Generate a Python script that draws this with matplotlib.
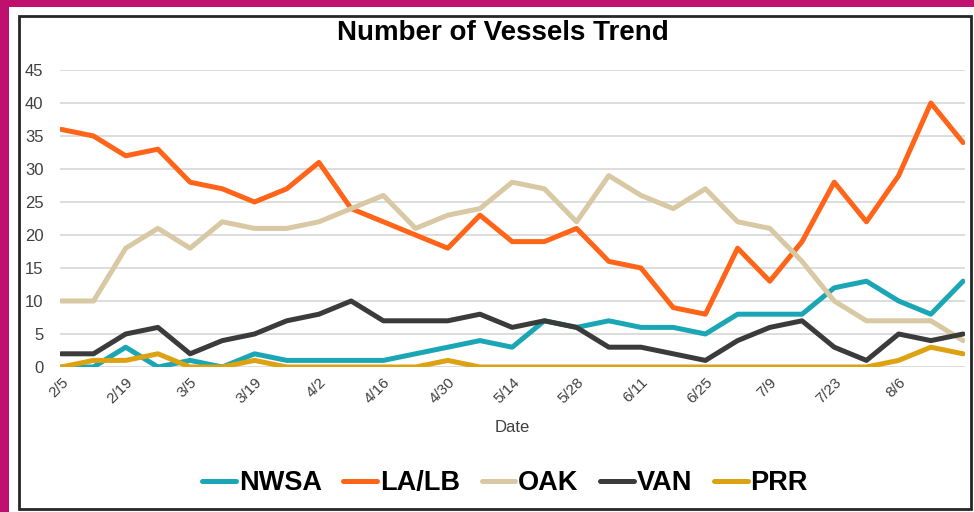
import matplotlib
matplotlib.use("Agg")
from matplotlib import pyplot as plt
from matplotlib.patches import Rectangle

plt.rcParams['font.family'] = ['Liberation Sans', 'DejaVu Sans']

dates = ['2/5', '2/12', '2/19', '2/26', '3/5', '3/12', '3/19', '3/26', '4/2', '4/9',
         '4/16', '4/23', '4/30', '5/7', '5/14', '5/21', '5/28', '6/4', '6/11', '6/18',
         '6/25', '7/2', '7/9', '7/16', '7/23', '7/30', '8/6', '8/13', '8/20']

nwsa = [0, 0, 3, 0, 1, 0, 2, 1, 1, 1, 1, 2, 3, 4, 3, 7, 6, 7, 6, 6, 5, 8, 8, 8, 12, 13, 10, 8, 13]
lalb = [36, 35, 32, 33, 28, 27, 25, 27, 31, 24, 22, 20, 18, 23, 19, 19, 21, 16, 15, 9, 8, 18, 13, 19, 28, 22, 29, 40, 34]
oak = [10, 10, 18, 21, 18, 22, 21, 21, 22, 24, 26, 21, 23, 24, 28, 27, 22, 29, 26, 24, 27, 22, 21, 16, 10, 7, 7, 7, 4]
van = [2, 2, 5, 6, 2, 4, 5, 7, 8, 10, 7, 7, 7, 8, 6, 7, 6, 3, 3, 2, 1, 4, 6, 7, 3, 1, 5, 4, 5]
prr = [0, 1, 1, 2, 0, 0, 1, 0, 0, 0, 0, 0, 1, 0, 0, 0, 0, 0, 0, 0, 0, 0, 0, 0, 0, 0, 1, 3, 2]

series = [('NWSA', nwsa, '#1aa6b4'),
          ('LA/LB', lalb, '#ff6418'),
          ('OAK', oak, '#d8c8a4'),
          ('VAN', van, '#3b3b3b'),
          ('PRR', prr, '#dca212')]

W, H = 974, 512
fig = plt.figure(figsize=(W / 100, H / 100), dpi=100, facecolor='#bf1070')

# white panel and the dark frame round the chart
fig.patches.append(Rectangle((9 / W, 0), 1 - 9 / W, 505 / H, transform=fig.transFigure,
                             facecolor='white', edgecolor='none', zorder=-5))
fig.patches.append(Rectangle((19 / W, 3 / H), 952 / W, 493 / H, transform=fig.transFigure,
                             fill=False, edgecolor='#262626', lw=2, zorder=-4))

ax = fig.add_axes([60 / W, 1 - 367 / H, (965 - 60) / W, (367 - 70) / H])
ax.set_zorder(2)
ax.patch.set_alpha(0)

x = list(range(len(dates)))
for name, vals, col in series:
    ax.plot(x, vals, color=col, lw=3.6, label=name, solid_joinstyle='round',
            solid_capstyle='round')

ax.set_xlim(-0.04, len(dates) - 1 + 0.06)
ax.set_ylim(0, 45)
ax.set_yticks(range(0, 46, 5))
ax.yaxis.grid(True, color='#dadada', lw=1.3)
ax.set_axisbelow(True)
for s in ax.spines.values():
    s.set_visible(False)

ticks = x[0:27:2]
ax.set_xticks(ticks)
ax.set_xticklabels([dates[i] for i in ticks], rotation=45, ha='right', va='top',
                   rotation_mode='anchor', fontsize=11, color='#404040')
ax.tick_params(axis='both', length=0)
ax.tick_params(axis='x', pad=6)
ax.tick_params(axis='y', pad=12, labelsize=12, labelcolor='#404040')

ax.set_xlabel('Date', fontsize=12, color='#404040', labelpad=10)

fig.text(503 / W, 1 - 33 / H, 'Number of Vessels Trend', ha='center', va='center',
         fontsize=20, fontweight='bold')

fig.legend(loc='center', bbox_to_anchor=(505 / W, 1 - 483 / H), ncol=5, frameon=False,
           prop={'weight': 'bold', 'size': 19.5}, handlelength=1.25, handletextpad=0.1,
           columnspacing=0.8)

fig.savefig('out.png', dpi=100, facecolor=fig.get_facecolor())
